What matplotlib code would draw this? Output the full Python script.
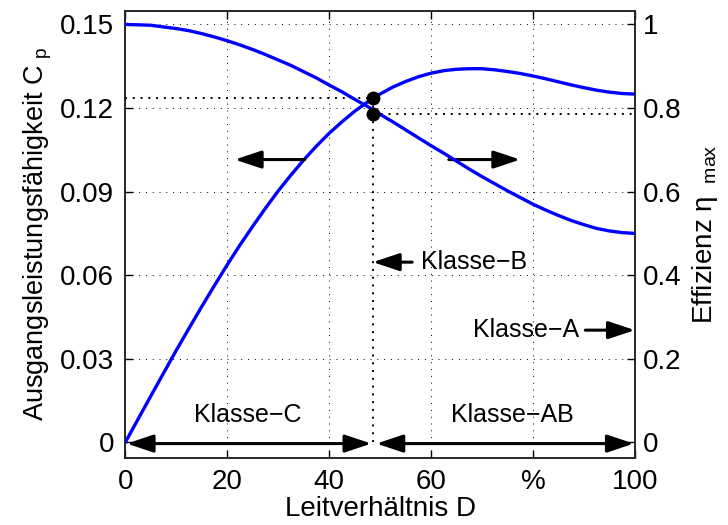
import matplotlib.pyplot as plt

plt.rcParams['font.family'] = ['Liberation Sans', 'DejaVu Sans']
plt.rcParams['mathtext.fontset'] = 'custom'
plt.rcParams['mathtext.rm'] = 'Liberation Sans'
plt.rcParams['font.size'] = 18

# Leitverhaeltnis D in %
D = [0, 2.5, 5, 7.5, 10, 12.5, 15, 17.5, 20, 22.5, 25, 27.5, 30, 32.5, 35, 37.5, 40,
     42.5, 45, 47.5, 50, 52.5, 55, 57.5, 60, 62.5, 65, 67.5, 70, 72.5, 75, 77.5, 80,
     82.5, 85, 87.5, 90, 92.5, 95, 97.5, 100]
# Ausgangsleistungsfaehigkeit Cp
cp = [0.0, 0.0083, 0.0166, 0.0248, 0.0330, 0.0409, 0.0487, 0.0563, 0.0637, 0.0708,
      0.0775, 0.0840, 0.0902, 0.0959, 0.1013, 0.1063, 0.1109, 0.1150, 0.1188, 0.1221,
      0.1250, 0.1275, 0.1295, 0.1312, 0.1325, 0.1334, 0.1339, 0.1341, 0.1341, 0.1337,
      0.1331, 0.1324, 0.1315, 0.1305, 0.1294, 0.1283, 0.1273, 0.1264, 0.1257, 0.1252,
      0.1250]
# Effizienz eta_max
eta = [1.000, 0.999, 0.998, 0.994, 0.990, 0.985, 0.978, 0.970, 0.961, 0.951, 0.940,
       0.928, 0.915, 0.902, 0.887, 0.872, 0.855, 0.839, 0.821, 0.804, 0.785, 0.767,
       0.748, 0.729, 0.710, 0.692, 0.673, 0.654, 0.636, 0.619, 0.602, 0.586, 0.570,
       0.556, 0.543, 0.531, 0.521, 0.512, 0.506, 0.502, 0.500]

# Klasse-B Arbeitspunkt
d_b = 48.6
cp_b = 0.1235
eta_b = 0.785

xticks = [0, 20, 40, 60, 80, 100]
xticklabels = ['0', '20', '40', '60', '%', '100']
cp_ticks = [0, 0.03, 0.06, 0.09, 0.12, 0.15]
cp_ticklabels = ['0', '0.03', '0.06', '0.09', '0.12', '0.15']
eta_ticks = [0, 0.2, 0.4, 0.6, 0.8, 1.0]
eta_ticklabels = ['0', '0.2', '0.4', '0.6', '0.8', '1']

fig = plt.figure(figsize=(7.28, 5.25), dpi=100)
ax = fig.add_axes([0.172, 0.128, 0.700, 0.851])
ax2 = ax.twinx()

cp_lim = (-0.0055, 0.1548)
ax.set_ylim(cp_lim)
ax2.set_ylim(cp_lim[0] / 0.15, cp_lim[1] / 0.15)
ax.set_xlim(0, 100)

grid_style = dict(color='k', lw=0.7, ls=(0, (1, 6)))
for x in xticks[1:-1]:
    ax.axvline(x, **grid_style, zorder=1)
for y in cp_ticks[1:-1]:
    ax.axhline(y, **grid_style, zorder=1)
ax.axhline(0.15, **grid_style, zorder=1)

ax.plot(D, cp, color='#0000ff', lw=2.4, zorder=3)
ax2.plot(D, eta, color='#0000ff', lw=2.4, zorder=3)

# Hilfslinien zum Klasse-B Punkt
dot = dict(color='k', lw=1.4, ls=(0, (1, 3)), zorder=2)
ax.plot([0, d_b], [cp_b, cp_b], **dot)
ax.plot([d_b, d_b], [0, cp_b], **dot)
ax2.plot([d_b, 100], [eta_b, eta_b], **dot)
ax.plot([d_b], [cp_b], 'ko', ms=9, zorder=5)
ax2.plot([d_b], [eta_b], 'ko', ms=9, zorder=5)

arrow = dict(arrowstyle='-|>,head_length=0.9,head_width=0.3', color='k', lw=2.2,
             shrinkA=0, shrinkB=0)
darrow = dict(arrowstyle='<|-|>,head_length=0.9,head_width=0.3', color='k', lw=2.2,
              shrinkA=0, shrinkB=0)

ax.annotate('', xy=(21.5, 0.1015), xytext=(35.2, 0.1015), arrowprops=arrow)
ax.annotate('', xy=(77.5, 0.1015), xytext=(63.5, 0.1015), arrowprops=arrow)
ax.annotate('', xy=(48.6, 0.0647), xytext=(56.3, 0.0647), arrowprops=arrow)
ax.text(58.1, 0.0647, 'Klasse\u2212B', ha='left', va='center')
ax.annotate('', xy=(100, 0.0403), xytext=(90.3, 0.0403), arrowprops=arrow,
            annotation_clip=False)
ax.text(89.1, 0.0403, 'Klasse\u2212A', ha='right', va='center')

ax.annotate('', xy=(0.3, -0.0004), xytext=(48.3, -0.0004), arrowprops=darrow)
ax.annotate('', xy=(49.3, -0.0004), xytext=(99.8, -0.0004), arrowprops=darrow)
ax.text(24, 0.0099, 'Klasse\u2212C', ha='center', va='center')
ax.text(76, 0.0099, 'Klasse\u2212AB', ha='center', va='center')

ax.set_xticks(xticks)
ax.set_xticklabels(xticklabels)
ax.set_yticks(cp_ticks)
ax.set_yticklabels(cp_ticklabels)
ax2.set_yticks(eta_ticks)
ax2.set_yticklabels(eta_ticklabels)

ax.tick_params(direction='in', length=6, width=1, top=True, pad=8, labelsize=20)
ax2.tick_params(direction='in', length=6, width=1, pad=6, labelsize=20)
for a in (ax, ax2):
    for s in a.spines.values():
        s.set_linewidth(1.1)
        s.set_color('#222222')

ax.set_xlabel('Leitverhältnis D', labelpad=1, fontsize=20)
ax.set_ylabel(r'Ausgangsleistungsfähigkeit C$_{\rm\ p}$', labelpad=4, fontsize=19.5)
ax2.set_ylabel('Effizienz η$_{\\rm\\ \\ max}$', labelpad=6, fontsize=20)

fig.savefig('out.png', dpi=100)
